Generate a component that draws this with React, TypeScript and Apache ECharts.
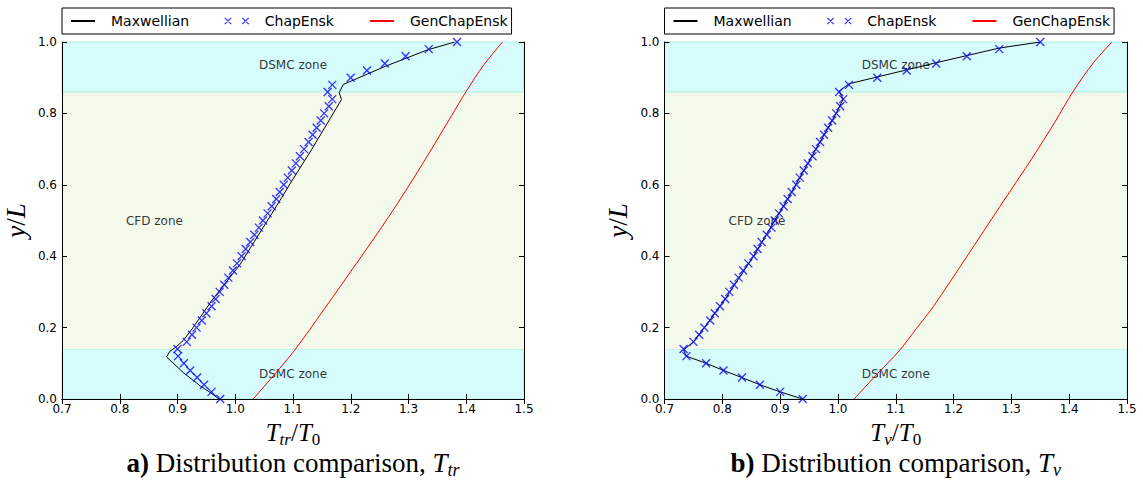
import React, { useEffect, useRef } from 'react';
import * as echarts from 'echarts';

// ---------- data ----------
const seriesNames = ['Maxwellian', 'ChapEnsk', 'GenChapEnsk'];

const chapY = [
  0.0, 0.02, 0.04, 0.06, 0.08, 0.1, 0.12, 0.14, 0.16, 0.18, 0.2, 0.22, 0.24, 0.26, 0.28, 0.3, 0.32,
  0.34, 0.36, 0.38, 0.4, 0.42, 0.44, 0.46, 0.48, 0.5, 0.52, 0.54, 0.56, 0.58, 0.6, 0.62, 0.64, 0.66,
  0.68, 0.7, 0.72, 0.74, 0.76, 0.78, 0.8, 0.82, 0.84, 0.86, 0.88, 0.9, 0.92, 0.94, 0.96, 0.98, 1.0,
];

const chapTrX = [
  0.974, 0.959, 0.946, 0.934, 0.922, 0.911, 0.901, 0.9, 0.916, 0.925, 0.933, 0.942, 0.95, 0.959, 0.966,
  0.973, 0.981, 0.988, 0.996, 1.003, 1.011, 1.018, 1.026, 1.033, 1.041, 1.048, 1.056, 1.063, 1.071,
  1.077, 1.084, 1.091, 1.098, 1.105, 1.112, 1.119, 1.127, 1.134, 1.141, 1.148, 1.154, 1.162, 1.168,
  1.16, 1.168, 1.2, 1.228, 1.259, 1.295, 1.335, 1.384,
];

const chapVX = [
  0.939, 0.9, 0.865, 0.834, 0.802, 0.772, 0.738, 0.733, 0.75, 0.76, 0.769, 0.779, 0.787, 0.796, 0.805,
  0.812, 0.82, 0.828, 0.836, 0.845, 0.854, 0.861, 0.868, 0.877, 0.885, 0.891, 0.898, 0.906, 0.913,
  0.92, 0.928, 0.934, 0.941, 0.948, 0.956, 0.962, 0.969, 0.976, 0.983, 0.99, 0.997, 1.004, 1.009,
  1.002, 1.019, 1.068, 1.119, 1.17, 1.223, 1.279, 1.35,
];

const maxwellTr = [
  [0.972, 0.0], [0.955, 0.02], [0.94, 0.036], [0.91, 0.074], [0.881, 0.118], [0.887, 0.134],
  [0.896, 0.144], [0.91, 0.164], [0.927, 0.2], [0.959, 0.275], [1.008, 0.376], [1.077, 0.555],
  [1.098, 0.611], [1.132, 0.698], [1.184, 0.839], [1.18, 0.858], [1.187, 0.881], [1.26, 0.932],
  [1.333, 0.978], [1.38, 1.0],
];

const maxwellV = [
  [0.939, 0.0], [0.9, 0.02], [0.865, 0.04], [0.834, 0.06], [0.802, 0.08], [0.772, 0.1], [0.738, 0.12],
  [0.733, 0.137], [0.75, 0.16], [0.769, 0.2], [0.805, 0.28], [0.854, 0.4], [0.913, 0.56], [0.969, 0.72],
  [0.997, 0.8], [1.009, 0.84], [1.002, 0.862], [1.019, 0.883], [1.068, 0.902], [1.17, 0.942],
  [1.279, 0.983], [1.35, 1.0],
];

const genTr = [
  [1.031, 0.0], [1.066, 0.065], [1.103, 0.137], [1.155, 0.254], [1.21, 0.38], [1.266, 0.511],
  [1.321, 0.65], [1.374, 0.792], [1.4, 0.862], [1.43, 0.935], [1.463, 1.0],
];

const genV = [
  [1.028, 0.0], [1.065, 0.065], [1.107, 0.137], [1.136, 0.198], [1.165, 0.259], [1.223, 0.399],
  [1.28, 0.539], [1.338, 0.68], [1.375, 0.775], [1.407, 0.862], [1.442, 0.942], [1.474, 1.0],
];

const zoneBounds = [0.0, 0.14, 0.86, 1.0];
const zoneLabels = [
  { name: 'DSMC zone', x: 1.1, y: 0.935 },
  { name: 'CFD zone', x: 0.86, y: 0.5 },
  { name: 'DSMC zone', x: 1.1, y: 0.07 },
];

const xRange = [0.7, 1.5];
const yRange = [0.0, 1.0];

const panels = [
  { chapX: chapTrX, maxwell: maxwellTr, gen: genTr, sub: 'tr', letter: 'a)' },
  { chapX: chapVX, maxwell: maxwellV, gen: genV, sub: 'v', letter: 'b)' },
];

// ---------- layout ----------
const GRIDS = [
  { left: 62, top: 42, width: 462, height: 357 },
  { left: 664.5, top: 42, width: 462.5, height: 357 },
];

const X_PATH = 'path://M0,0L10,10M10,0L0,10';
const X2_PATH = 'path://M0,0L8,8M8,0L0,8M22,0L30,8M30,0L22,8';

const CYAN = '#d5fbfb';
const GREEN = '#f3f9eb';
const EDGE = '#a9f0e4';
const SERIF = 'Liberation Serif';
const SANS = 'DejaVu Sans';

const mathRich = {
  i: { fontFamily: SERIF, fontStyle: 'italic', fontSize: 25, color: '#000', lineHeight: 26 },
  n: { fontFamily: SERIF, fontSize: 25, color: '#000', lineHeight: 26 },
  s: { fontFamily: SERIF, fontStyle: 'italic', fontSize: 17, color: '#000', lineHeight: 31, verticalAlign: 'bottom' },
  z: { fontFamily: SERIF, fontSize: 17, color: '#000', lineHeight: 31, verticalAlign: 'bottom' },
};

const yRich = {
  i: { fontFamily: SERIF, fontStyle: 'italic', fontSize: 27, color: '#000' },
  n: { fontFamily: SERIF, fontSize: 27, color: '#000' },
};

function buildOption() {
  const grid: any[] = [];
  const xAxis: any[] = [];
  const yAxis: any[] = [];
  const series: any[] = [];
  const legend: any[] = [];
  const graphic: any[] = [];

  panels.forEach((p, k) => {
    grid.push({ ...GRIDS[k], containLabel: false });
    const axisLine = { show: true, lineStyle: { color: '#000', width: 1 } };
    const tick = { show: true, inside: true, length: 5, lineStyle: { color: '#000', width: 1 } };
    xAxis.push({
      type: 'value', gridIndex: k, min: xRange[0], max: xRange[1], interval: 0.1, position: 'bottom',
      axisLine, axisTick: tick, splitLine: { show: false }, z: 10,
      axisLabel: { margin: 4, color: '#000', fontFamily: SANS, fontSize: 12, formatter: (v: number) => v.toFixed(1) },
      name: `{i|T}{s|${p.sub}}{n|/}{i|T}{z|0}`,
      nameLocation: 'middle', nameGap: 17, nameTextStyle: { rich: mathRich },
    });
    xAxis.push({
      type: 'value', gridIndex: k, min: xRange[0], max: xRange[1], interval: 0.1, position: 'top',
      axisLine, axisTick: tick, axisLabel: { show: false }, splitLine: { show: false }, z: 10,
    });
    yAxis.push({
      type: 'value', gridIndex: k, min: yRange[0], max: yRange[1], interval: 0.2, position: 'left',
      axisLine, axisTick: tick, splitLine: { show: false }, z: 10,
      axisLabel: { margin: 5, color: '#000', fontFamily: SANS, fontSize: 12, formatter: (v: number) => v.toFixed(1) },
      name: '{i|y}{n|/}{i|L}', nameLocation: 'middle', nameGap: 33, nameRotate: 90,
      nameTextStyle: { rich: yRich },
    });
    yAxis.push({
      type: 'value', gridIndex: k, min: yRange[0], max: yRange[1], interval: 0.2, position: 'right',
      axisLine, axisTick: tick, axisLabel: { show: false }, splitLine: { show: false }, z: 10,
    });

    const xi = 2 * k;
    const yi = 2 * k;
    series.push({
      type: 'line', name: 'zones', xAxisIndex: xi, yAxisIndex: yi, data: [], z: 1, silent: true,
      markArea: {
        silent: true,
        data: [
          [{ yAxis: zoneBounds[0], itemStyle: { color: CYAN, borderColor: EDGE, borderWidth: 1 } }, { yAxis: zoneBounds[1] }],
          [{ yAxis: zoneBounds[1], itemStyle: { color: GREEN, borderWidth: 0 } }, { yAxis: zoneBounds[2] }],
          [{ yAxis: zoneBounds[2], itemStyle: { color: CYAN, borderColor: EDGE, borderWidth: 1 } }, { yAxis: zoneBounds[3] }],
        ],
      },
    });
    series.push({
      type: 'scatter', name: 'zone labels', xAxisIndex: xi, yAxisIndex: yi, z: 2, silent: true,
      symbolSize: 0,
      data: zoneLabels.map((z) => ({ name: z.name, value: [z.x, z.y] })),
      label: { show: true, position: 'inside', formatter: '{b}', color: '#000', fontFamily: SANS, fontSize: 12 },
    });
    series.push({
      type: 'line', name: seriesNames[0], xAxisIndex: xi, yAxisIndex: yi, z: 3,
      data: p.maxwell, symbol: 'none', lineStyle: { color: '#000', width: 1 }, itemStyle: { color: '#000' },
    });
    series.push({
      type: 'scatter', name: seriesNames[1], xAxisIndex: xi, yAxisIndex: yi, z: 4,
      data: p.chapX.map((x, i) => [x, chapY[i]]),
      symbol: X_PATH, symbolSize: 8,
      itemStyle: { color: 'rgba(0,0,0,0)', borderColor: '#0000ff', borderWidth: 1.3 },
    });
    series.push({
      type: 'line', name: seriesNames[2], xAxisIndex: xi, yAxisIndex: yi, z: 3, smooth: 0.3,
      data: p.gen, symbol: 'none', lineStyle: { color: '#ff0000', width: 1 }, itemStyle: { color: '#ff0000' },
    });

    legend.push({
      left: GRIDS[k].left, top: 8, orient: 'horizontal', selectedMode: false,
      itemGap: 35, itemWidth: 24, itemHeight: 10,
      padding: [6, 4, 6, 8], borderColor: '#000', borderWidth: 1, backgroundColor: '#fff',
      textStyle: { fontFamily: SANS, fontSize: 14, color: '#000', padding: [0, 0, 0, 11] },
      data: [
        { name: seriesNames[0], itemStyle: { opacity: 0 } },
        { name: seriesNames[1], icon: X2_PATH, itemStyle: { color: 'rgba(0,0,0,0)', borderColor: '#0000ff', borderWidth: 1.2 } },
        { name: seriesNames[2], itemStyle: { opacity: 0 } },
      ],
    });

    graphic.push({
      type: 'text',
      x: GRIDS[k].left + GRIDS[k].width / 2,
      y: 463,
      style: {
        text: `{b|${p.letter}}{r| Distribution comparison, }{i|T}{s|${p.sub}}`,
        align: 'center',
        verticalAlign: 'middle',
        rich: {
          b: { fontFamily: SERIF, fontWeight: 'bold', fontSize: 27, fill: '#000', lineHeight: 28 },
          r: { fontFamily: SERIF, fontSize: 27, fill: '#000', lineHeight: 28 },
          i: { fontFamily: SERIF, fontStyle: 'italic', fontSize: 27, fill: '#000', lineHeight: 28 },
          s: { fontFamily: SERIF, fontStyle: 'italic', fontSize: 18, fill: '#000', lineHeight: 32, verticalAlign: 'bottom' },
        },
      },
    });
  });

  return {
    animation: false,
    backgroundColor: '#fff',
    grid, xAxis, yAxis, series, legend, graphic,
  };
}

export default function App() {
  const ref = useRef<HTMLDivElement>(null);
  useEffect(() => {
    document.body.style.margin = '0';
    if (!ref.current) return;
    const chart = echarts.init(ref.current, undefined, { renderer: 'svg' });
    chart.setOption(buildOption() as any);
    return () => chart.dispose();
  }, []);
  return <div ref={ref} style={{ width: 1143, height: 481 }} />;
}
